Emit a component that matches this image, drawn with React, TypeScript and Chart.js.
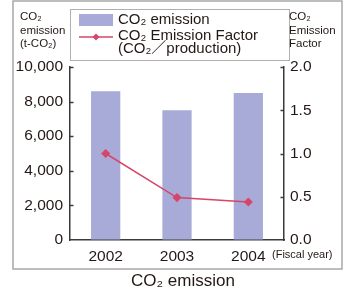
import React, { useEffect, useRef } from "react";
import { Chart, registerables } from "chart.js";

Chart.register(...registerables);

const years = ["2002", "2003", "2004"];
const emissions = [8600, 7500, 8500];
const emissionFactor = [1.0, 0.49, 0.44];
const leftTicks = [0, 2000, 4000, 6000, 8000, 10000];
const rightTicks = [0, 0.5, 1.0, 1.5, 2.0];

const FONT = '"Liberation Sans", "DejaVu Sans", "Noto Sans CJK JP", sans-serif';
const TEXT = "#231815";
const AXIS = "#3a3a3a";
const BAR = "#a8abd7";
const LINE = "#d6456a";

const decorPlugin = {
  id: "decor",
  afterDraw(chart: any) {
    const ctx = chart.ctx as CanvasRenderingContext2D;
    const y = chart.scales.y;
    const y1 = chart.scales.y1;
    const area = chart.chartArea;
    ctx.save();
    // inward ticks
    ctx.strokeStyle = AXIS;
    ctx.lineWidth = 1.5;
    leftTicks.forEach((v) => {
      if (v === 0) return;
      const p = Math.round(y.getPixelForValue(v)) + 0.5;
      ctx.beginPath();
      ctx.moveTo(area.left, p);
      ctx.lineTo(area.left + 3.5, p);
      ctx.stroke();
    });
    rightTicks.forEach((v) => {
      if (v === 0) return;
      const p = Math.round(y1.getPixelForValue(v)) + 0.5;
      ctx.beginPath();
      ctx.moveTo(area.right, p);
      ctx.lineTo(area.right - 3.5, p);
      ctx.stroke();
    });
    // outer frame
    ctx.strokeStyle = "#a8a8a8";
    ctx.lineWidth = 1.5;
    ctx.strokeRect(13, 1, 329, 268);
    // legend box
    ctx.strokeStyle = "#b0b0b0";
    ctx.lineWidth = 1;
    ctx.strokeRect(70.5, 9.5, 219, 51);
    ctx.fillStyle = BAR;
    ctx.fillRect(79, 14, 34, 12);
    ctx.strokeStyle = LINE;
    ctx.lineWidth = 1.5;
    ctx.beginPath();
    ctx.moveTo(79, 37);
    ctx.lineTo(113, 37);
    ctx.stroke();
    ctx.fillStyle = LINE;
    ctx.beginPath();
    ctx.moveTo(96, 33.5);
    ctx.lineTo(99.5, 37);
    ctx.lineTo(96, 40.5);
    ctx.lineTo(92.5, 37);
    ctx.closePath();
    ctx.fill();
    ctx.fillStyle = TEXT;
    ctx.textBaseline = "middle";
    ctx.textAlign = "left";
    ctx.font = `15px ${FONT}`;
    ctx.fillText("CO₂ emission", 118, 20);
    ctx.fillText("CO₂ Emission Factor", 118, 36);
    ctx.fillText("(CO₂／production)", 118, 49);
    // axis titles
    ctx.font = `11.5px ${FONT}`;
    ctx.fillText("CO₂", 20, 17);
    ctx.fillText("emission", 20, 31);
    ctx.fillText("(t-CO₂)", 20, 44);
    ctx.fillText("CO₂", 289, 17);
    ctx.fillText("Emission", 289, 31);
    ctx.fillText("Factor", 289, 44);
    ctx.font = `11px ${FONT}`;
    ctx.fillText("(Fiscal year)", 272, 255);
    ctx.textAlign = "center";
    ctx.font = `17px ${FONT}`;
    ctx.fillText("CO₂ emission", 183, 281);
    ctx.restore();
  },
};

export default function App() {
  const ref = useRef<HTMLCanvasElement | null>(null);
  useEffect(() => {
    if (!ref.current) return;
    const chart = new Chart(ref.current, {
      type: "bar",
      data: {
        labels: years,
        datasets: [
          {
            type: "line",
            label: "CO₂ Emission Factor",
            data: emissionFactor,
            yAxisID: "y1",
            borderColor: LINE,
            backgroundColor: LINE,
            borderWidth: 1.5,
            pointStyle: "rectRot",
            pointRadius: 3.5,
            pointBackgroundColor: LINE,
            pointBorderColor: LINE,
            order: 0,
          } as any,
          {
            type: "bar",
            label: "CO₂ emission",
            data: emissions,
            yAxisID: "y",
            backgroundColor: BAR,
            categoryPercentage: 1,
            barPercentage: 0.41,
            order: 1,
          },
        ],
      },
      options: {
        animation: false,
        responsive: false,
        devicePixelRatio: 1,
        layout: { padding: { top: 67, left: 0, right: 0, bottom: 0 } },
        plugins: { legend: { display: false }, tooltip: { enabled: false } },
        scales: {
          x: {
            grid: { display: false, drawTicks: false },
            border: { display: true, color: AXIS, width: 1.5 },
            ticks: { color: TEXT, font: { size: 15.5, family: FONT }, padding: 7 },
            afterFit: (s: any) => {
              s.height = 53;
            },
          },
          y: {
            position: "left",
            min: 0,
            max: 10000,
            afterBuildTicks: (s: any) => {
              s.ticks = leftTicks.map((v) => ({ value: v }));
            },
            grid: { drawOnChartArea: false, drawTicks: false },
            border: { display: true, color: AXIS, width: 1.5 },
            ticks: {
              color: TEXT,
              font: { size: 15.5, family: FONT },
              padding: 7,
              callback: (v: any) => Number(v).toLocaleString("en-US"),
            },
            afterFit: (s: any) => {
              s.width = 70;
            },
          },
          y1: {
            position: "right",
            min: 0,
            max: 2,
            afterBuildTicks: (s: any) => {
              s.ticks = rightTicks.map((v) => ({ value: v }));
            },
            grid: { drawOnChartArea: false, drawTicks: false },
            border: { display: true, color: AXIS, width: 1.5 },
            ticks: {
              color: TEXT,
              font: { size: 15.5, family: FONT },
              padding: 6,
              callback: (v: any) => Number(v).toFixed(1),
            },
            afterFit: (s: any) => {
              s.width = 62;
            },
          },
        },
      },
      plugins: [decorPlugin],
    });
    return () => chart.destroy();
  }, []);
  return (
    <div style={{ position: "fixed", left: 0, top: 0, width: 346, height: 293, background: "#fff" }}>
      <canvas ref={ref} width={346} height={293} style={{ display: "block" }} />
    </div>
  );
}
